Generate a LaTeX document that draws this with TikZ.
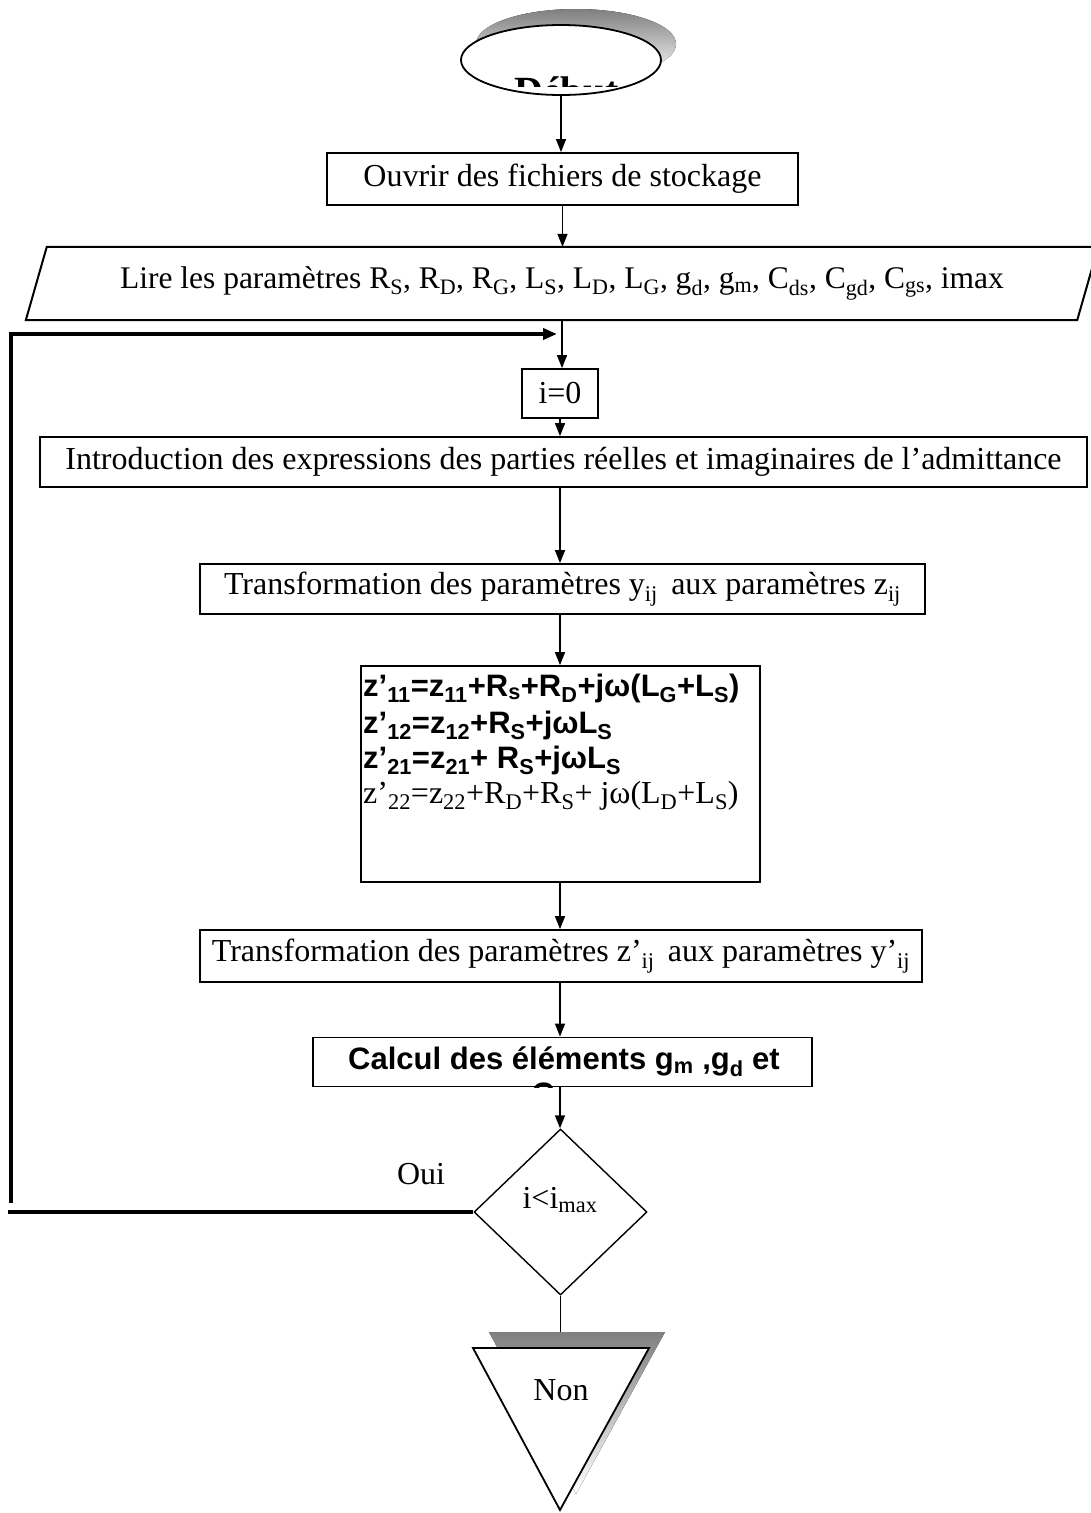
\documentclass[tikz,border=0pt]{standalone}
\usepackage{fontspec}
\setmainfont{Liberation Serif}
\setsansfont{Liberation Sans}
\usetikzlibrary{arrows.meta,shapes.geometric,calc}
\newcommand{\sbs}[1]{\textsubscript{#1}}
\definecolor{shade}{gray}{0.5}
\tikzset{
  box/.style={draw, line width=1.8pt, inner sep=0pt, fill=white, font=\fontsize{32}{36}\selectfont},
  flow/.style={line width=1.5pt, -{Triangle[length=13pt,width=10pt]}},
  loopline/.style={line width=3.5pt},
  txt/.style={font=\fontsize{32}{36}\selectfont, inner sep=0pt},
  boldsans/.style={font=\fontsize{31}{34}\selectfont\sffamily\bfseries, inner sep=0pt},
}
\begin{document}
\begin{tikzpicture}[x=1pt,y=-1pt]
\useasboundingbox (0,0) rectangle (1090,1513);

% start ellipse with its shadow
\fill[shade] (576,44) ellipse [x radius=100, y radius=35];
\node[draw, ellipse, line width=1.8pt, fill=white, minimum width=200pt, minimum height=70pt, inner sep=0pt] (start) at (561,60) {};
\begin{scope}
  \clip (561,60) ellipse [x radius=99, y radius=34];
  \clip (400,0) rectangle (720,86);
  \node[anchor=base west, inner sep=0pt, font=\fontsize{40}{44}\selectfont\bfseries] (starttxt) at (514,104.5) {Début};
\end{scope}

% process boxes
\node[box, minimum width=471pt, minimum height=52pt] (ouvrir) at (562.5,179) {Ouvrir des fichiers de stockage};

\node[txt, font=\fontsize{31.5}{36}\selectfont, minimum width=1072pt, minimum height=73pt] (lire) at (562,283.5)
  {Lire les paramètres R\sbs{S}, R\sbs{D}, R\sbs{G}, L\sbs{S}, L\sbs{D}, L\sbs{G}, g\sbs{d}, g\sbs{m}, C\sbs{ds}, C\sbs{gd}, C\sbs{gs}, imax};
\draw[line width=2pt] ($(lire.north west)+(21,0)$) -- (lire.north east) -- ($(lire.south east)-(21,0)$) -- (lire.south west) -- cycle;

\node[box, minimum width=76pt, minimum height=49pt] (izero) at (560,393.5) {i=0};

\node[box, minimum width=1047pt, minimum height=50pt] (intro) at (563.5,462)
  {Introduction des expressions des parties réelles et imaginaires de l’admittance};

\node[box, minimum width=725pt, minimum height=50pt] (tyz) at (562.5,589)
  {Transformation des paramètres y\sbs{ij}\, aux paramètres z\sbs{ij}};

\node[box, minimum width=399pt, minimum height=216pt] (zbox) at (560.5,774) {};
\node[boldsans, anchor=base west] (zl1) at (363,696) {z’\sbs{11}=z\sbs{11}+R\sbs{s}+R\sbs{D}+jω(L\sbs{G}+L\sbs{S})};
\node[boldsans, anchor=base west] (zl2) at (363,733) {z’\sbs{12}=z\sbs{12}+R\sbs{S}+jωL\sbs{S}};
\node[boldsans, anchor=base west] (zl3) at (363,768) {z’\sbs{21}=z\sbs{21}+ R\sbs{S}+jωL\sbs{S}};
\node[txt, anchor=base west] (zl4) at (363,803) {z’\sbs{22}=z\sbs{22}+R\sbs{D}+R\sbs{S}+ jω(L\sbs{D}+L\sbs{S})};

\node[box, minimum width=722pt, minimum height=52pt] (tzy) at (561,956)
  {Transformation des paramètres z’\sbs{ij}\, aux paramètres y’\sbs{ij}};

\node[box, minimum width=499pt, minimum height=49pt] (calc) at (562.5,1062) {};
\begin{scope}
  \clip (calc.south west) rectangle (calc.north east);
  \node[boldsans] (calctxt) at (564,1062) {Calcul des éléments g\sbs{m} ,g\sbs{d} et};
  \node[boldsans, anchor=north] (calcrest) at (543,1083) {C};
\end{scope}

% decision
\node[draw, diamond, line width=1.4pt, aspect=1.04, minimum width=173pt, minimum height=166pt, inner sep=0pt] (cond) at (560.5,1212) {};
\node[txt] (condtxt) at (560,1200) {i<i\sbs{max}};
\node[txt] (oui) at (421,1174) {Oui};

% end triangle with its shadow
\fill[shade] (489,1332) -- (665,1332) -- (576,1494) -- cycle;
\draw[line width=1.8pt, fill=white] (473,1348) coordinate (tl) -- (649,1348) coordinate (tr) -- (560,1510) coordinate (tb) -- cycle;
\coordinate (endtop) at (560,1332);
\node[txt] (non) at (561,1390) {Non};

% connectors
\draw[flow] (start.south) -- (start.south |- ouvrir.north);
\draw[flow] (ouvrir.south) -- (ouvrir.south |- lire.north);
\draw[flow] (lire.south) -- (lire.south |- izero.north);
\draw[flow] (izero.south) -- (izero.south |- intro.north);
\draw[flow] (intro.south -| izero.south) -- (izero.south |- tyz.north);
\draw[flow] (tyz.south -| izero.south) -- (izero.south |- zbox.north);
\draw[flow] (zbox.south -| izero.south) -- (izero.south |- tzy.north);
\draw[flow] (tzy.south -| izero.south) -- (izero.south |- calc.north);
\draw[flow] (calc.south -| izero.south) -- (izero.south |- cond.north);
\draw[line width=1.5pt] (cond.south) -- (cond.south |- endtop);

% return loop
\coordinate (loopfoot) at (11,1203);
\coordinate (loopin) at (557,334);
\coordinate (ouiend) at (8,1212);
\draw[loopline, -{Triangle[length=14pt,width=11pt]}] (loopfoot) |- (loopin);
\draw[loopline] (ouiend) -- (cond.west);
\end{tikzpicture}
\end{document}
